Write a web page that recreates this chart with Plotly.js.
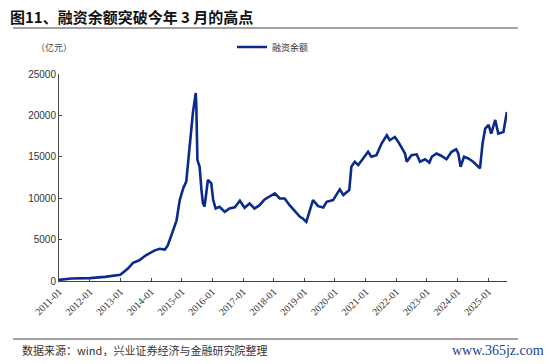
<!DOCTYPE html>
<html><head><meta charset="utf-8">
<script src="https://cdn.plot.ly/plotly-3.0.1.min.js"></script>
<style>html,body{margin:0;padding:0;background:#fff}#c{width:550px;height:364px}</style>
</head><body><div id="c"></div>
<script>
// 融资余额（亿元）
const dates = [
"2011-01-01","2011-06-01","2012-01-01","2012-07-01","2013-01-01","2013-04-01","2013-06-01","2013-08-15","2013-11-01",
"2014-02-15","2014-04-15","2014-06-15","2014-07-20","2014-09-01","2014-11-01","2014-12-10","2015-01-20","2015-02-25",
"2015-04-10","2015-05-15","2015-06-18","2015-06-25","2015-07-08","2015-08-03","2015-08-25","2015-09-12","2015-10-01",
"2015-11-10","2015-12-20","2016-01-12","2016-02-10","2016-03-28","2016-05-28","2016-07-25","2016-09-25","2016-11-25",
"2017-01-20","2017-03-20","2017-05-18","2017-07-18","2017-09-15","2017-11-15","2018-01-15","2018-03-15","2018-05-12",
"2018-07-10","2018-10-01","2018-11-10","2018-12-15","2019-01-25","2019-04-15","2019-06-15","2019-08-15","2019-09-25",
"2019-12-10","2020-01-20","2020-02-28","2020-04-10","2020-06-20","2020-07-15","2020-08-25","2020-10-05","2020-12-01",
"2021-01-30","2021-03-10","2021-05-10","2021-07-10","2021-09-10","2021-10-15","2021-12-15","2022-01-25","2022-03-08",
"2022-04-15","2022-05-05","2022-07-01","2022-09-01","2022-10-10","2022-12-10","2023-01-30","2023-02-28","2023-04-25",
"2023-06-25","2023-08-22","2023-10-22","2023-12-15","2024-01-10","2024-02-06","2024-03-18","2024-05-08","2024-07-05",
"2024-09-24","2024-10-25","2024-11-25","2025-01-05","2025-02-05","2025-03-25","2025-04-30","2025-07-01","2025-08-10"];
const values = [
130,300,350,500,750,1500,2200,2500,3100,
3700,3900,3800,4300,5500,7300,9800,11200,12000,
17000,20300,22700,21100,14600,13800,11000,9370,9000,
12200,11800,9770,8760,8960,8350,8760,8900,9690,
8840,9370,8760,9160,9850,10170,10580,9970,9970,
9160,8160,7750,7550,7140,9770,9040,8880,9570,
9770,10380,11060,10380,10980,13800,14400,14000,14800,
15600,15000,15200,16600,17600,17000,17400,16800,16000,
15400,14400,15200,15300,14400,14700,14300,15000,15400,
15100,14700,15600,15900,15400,13800,15000,14800,14400,
13600,16600,18400,18850,17800,19450,17800,18000,20400];
const xTickVals = ["2011-01-01","2012-01-01","2013-01-01","2014-01-01","2015-01-01","2016-01-01","2017-01-01","2018-01-01","2019-01-01","2020-01-01","2021-01-01","2022-01-01","2023-01-01","2024-01-01","2025-01-01"];
const xTickText = ["2011-01","2012-01","2013-01","2014-01","2015-01","2016-01","2017-01","2018-01","2019-01","2020-01","2021-01","2022-01","2023-01","2024-01","2025-01"];
const yTickVals = [0,5000,10000,15000,20000,25000];
const yTickText = ["0","5000","10000","15000","20000","25000"];

const W=550,H=364,L=59,R=43,T=74,B=83;
const pw=W-L-R, ph=H-T-B;
const px=x=>(x-L)/pw, py=y=>(H-B-y)/ph;
const cjk='"Noto Sans CJK SC", "Noto Sans", sans-serif';

Plotly.newPlot('c',[{
  x:dates,y:values,type:'scatter',mode:'lines',name:'融资余额',
  line:{color:'#0b2a8c',width:2.6}
}],{
  width:W,height:H,margin:{l:L,r:R,t:T,b:B},
  paper_bgcolor:'#fff',plot_bgcolor:'#fff',
  showlegend:true,
  legend:{orientation:'h',x:px(232),y:py(47),xanchor:'left',yanchor:'middle',
    font:{family:cjk,size:9,color:'#333'},itemwidth:30,bgcolor:'rgba(0,0,0,0)'},
  xaxis:{type:'date',range:['2011-01-01','2025-08-12'],tickvals:xTickVals,ticktext:xTickText,
    tickangle:-45,ticks:'inside',ticklen:3,tickcolor:'#444',showline:true,linecolor:'#444',linewidth:1,
    showgrid:false,zeroline:false,tickfont:{family:'"Liberation Serif", serif',size:10,color:'#333'}},
  yaxis:{range:[0,25000],tickvals:yTickVals,ticktext:yTickText,ticks:'inside',ticklen:3,tickcolor:'#444',
    showline:true,linecolor:'#444',linewidth:1,showgrid:false,zeroline:false,
    tickfont:{family:'"Liberation Sans", Arial, sans-serif',size:10,color:'#333'}},
  shapes:[
    {type:'line',xref:'paper',yref:'paper',x0:px(13),x1:px(518),y0:py(28),y1:py(28),line:{color:'#444',width:1}},
    {type:'line',xref:'paper',yref:'paper',x0:px(13),x1:px(518),y0:py(339),y1:py(339),line:{color:'#444',width:1}}
  ],
  annotations:[
    {xref:'paper',yref:'paper',x:px(8),y:py(16),xanchor:'left',yanchor:'middle',showarrow:false,
     text:'<b>图11、融资余额突破今年 3 月的高点</b>',font:{family:cjk,size:15,color:'#111'}},
    {xref:'paper',yref:'paper',x:px(34),y:py(47),xanchor:'left',yanchor:'middle',showarrow:false,
     text:'（亿元）',font:{family:cjk,size:9,color:'#444'}},
    {xref:'paper',yref:'paper',x:px(20),y:py(350),xanchor:'left',yanchor:'middle',showarrow:false,
     text:'数据来源：wind，兴业证券经济与金融研究院整理',font:{family:cjk,size:11,color:'#333'}},
    {xref:'paper',yref:'paper',x:px(546),y:py(350),xanchor:'right',yanchor:'middle',showarrow:false,
     text:'www.365jz.com',font:{family:'"Liberation Serif", serif',size:14,color:'#1c3f86'}}
  ]
},{displayModeBar:false,staticPlot:true});
</script></body></html>
